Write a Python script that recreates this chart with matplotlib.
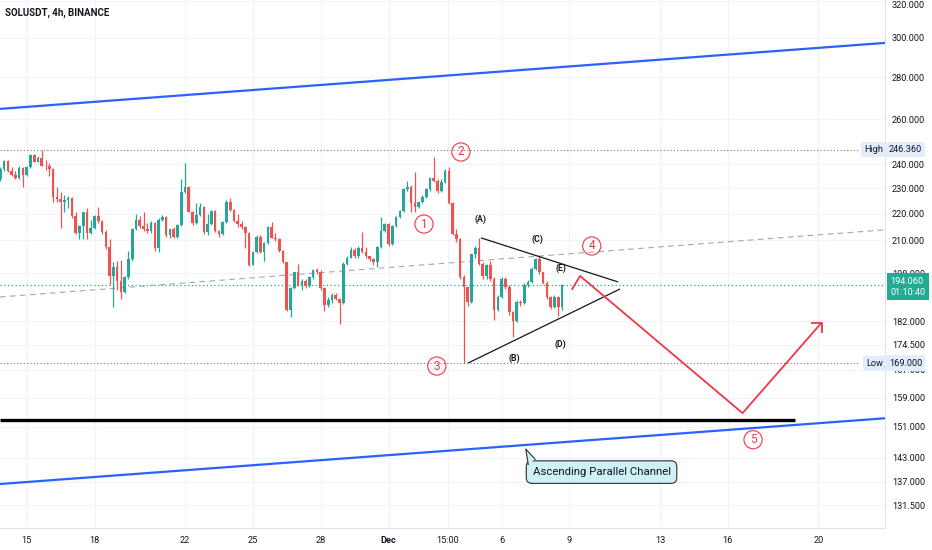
import matplotlib
matplotlib.use('Agg')
import matplotlib.pyplot as plt
import numpy as np
from matplotlib.transforms import blended_transform_factory
from matplotlib.ticker import NullLocator
from matplotlib.patches import Polygon

plt.rcParams['font.family'] = ['Roboto', 'DejaVu Sans']

# ---------------- data (4h candles, SOLUSDT) ----------------
first_open = 233.7
closes = [
    237.9, 241.6, 237.0, 235.4, 234.1, 238.3, 235.4, 238.7, 244.1, 241.2,
    242.9, 239.5, 239.1, 237.9, 226.6, 225.8, 224.6, 225.4, 226.2, 218.9,
    212.5, 215.1, 220.5, 212.5, 214.4, 218.9, 217.0, 212.9, 207.5, 196.9,
    200.4, 195.2, 191.7, 196.6, 202.9, 214.0, 217.4, 215.1, 214.0, 213.2,
    216.3, 207.2, 217.4, 218.6, 211.7, 214.0, 211.3, 215.5, 228.7, 230.8,
    220.8, 216.3, 219.3, 222.7, 212.9, 215.9, 221.2, 213.2, 212.1, 216.7,
    224.6, 221.6, 217.0, 215.9, 214.8, 212.5, 201.1, 205.7, 211.3, 205.7,
    208.9, 214.8, 210.9, 210.2, 206.1, 201.9, 185.7, 193.0, 198.3, 194.0,
    195.4, 193.7, 196.6, 199.0, 198.6, 193.0, 187.3, 188.9, 190.7, 189.3,
    187.9, 201.2, 203.6, 206.4, 204.0, 207.2, 205.7, 204.0, 202.9, 201.9,
    207.5, 213.2, 215.9, 208.5, 215.1, 218.6, 221.2, 229.6, 230.4, 224.3,
    222.7, 224.6, 226.6, 229.6, 234.1, 232.9, 229.1, 232.5, 237.0, 224.3,
    212.1, 210.2, 196.6, 193.3, 188.3, 204.7, 207.2, 201.2, 196.9, 200.8,
    195.9, 185.7, 189.9, 195.9, 193.3, 184.8, 181.9, 188.3, 187.9, 194.0,
    195.0, 199.4, 202.9, 198.3, 194.7, 189.9, 186.7, 189.9, 186.7, 194.06,
]
highs = [
    238.7, 242.0, 242.0, 238.7, 237.0, 239.1, 238.7, 239.5, 244.5, 244.5,
    243.7, 246.36, 242.0, 240.4, 238.3, 230.4, 228.7, 227.5, 227.1, 226.6,
    220.5, 215.5, 220.8, 222.4, 217.4, 219.3, 222.7, 217.4, 213.6, 210.2,
    201.9, 202.2, 202.6, 196.9, 206.1, 214.4, 219.7, 218.9, 220.8, 216.3,
    217.0, 216.7, 218.2, 219.3, 218.9, 214.4, 214.8, 215.9, 233.7, 240.4,
    231.2, 221.2, 224.3, 224.3, 223.1, 219.7, 221.6, 221.6, 213.6, 217.0,
    225.4, 226.2, 222.0, 219.7, 217.0, 215.1, 212.9, 206.1, 211.7, 211.7,
    209.2, 215.1, 216.7, 212.5, 210.6, 206.4, 201.9, 193.3, 198.6, 201.2,
    196.2, 195.9, 196.9, 199.4, 199.9, 199.0, 193.3, 189.9, 191.4, 191.4,
    189.6, 201.9, 204.0, 207.5, 207.2, 207.9, 212.9, 207.5, 204.3, 203.3,
    207.9, 218.6, 216.3, 216.3, 215.5, 218.9, 221.6, 230.0, 232.9, 231.6,
    236.6, 225.0, 227.5, 230.0, 234.5, 243.2, 233.7, 233.7, 237.9, 238.7,
    224.6, 214.0, 210.6, 197.3, 193.7, 205.0, 207.9, 210.9, 201.9, 201.2,
    202.2, 196.6, 190.7, 196.6, 196.6, 194.0, 185.4, 188.9, 188.9, 194.7,
    195.7, 200.1, 203.6, 204.0, 198.6, 195.2, 190.3, 190.7, 190.3, 194.3,
]
lows = [
    232.9, 237.0, 236.6, 235.0, 233.7, 233.7, 230.4, 235.0, 238.3, 240.8,
    240.8, 239.1, 237.5, 235.0, 224.6, 224.6, 214.4, 220.8, 222.4, 218.2,
    212.1, 210.2, 210.2, 210.2, 212.1, 214.0, 216.3, 212.1, 206.8, 194.0,
    186.7, 192.4, 189.3, 191.4, 196.2, 202.2, 213.6, 214.4, 213.2, 212.5,
    212.5, 206.1, 205.7, 217.0, 211.3, 210.9, 210.9, 210.9, 215.1, 228.3,
    220.5, 215.5, 215.9, 218.9, 212.1, 211.7, 215.5, 212.9, 211.3, 211.7,
    216.3, 221.2, 216.7, 214.8, 214.0, 207.2, 200.5, 200.8, 205.4, 205.4,
    202.2, 208.5, 210.6, 209.8, 205.7, 201.5, 185.1, 183.2, 192.6, 193.7,
    192.4, 193.0, 193.3, 196.2, 197.6, 192.4, 185.1, 186.7, 188.0, 188.9,
    180.9, 187.6, 200.8, 203.3, 203.6, 203.6, 205.4, 203.6, 202.2, 200.8,
    200.1, 207.2, 212.9, 207.9, 208.2, 214.8, 218.2, 220.8, 229.1, 220.5,
    220.5, 222.4, 224.3, 226.2, 229.1, 232.5, 228.3, 228.7, 232.1, 223.9,
    211.7, 209.4, 195.9, 169.0, 187.0, 188.0, 203.6, 200.8, 196.2, 195.9,
    195.2, 182.3, 185.4, 189.6, 192.6, 184.1, 176.8, 181.6, 187.0, 187.6,
    193.3, 194.7, 199.0, 197.9, 194.4, 189.3, 186.0, 186.4, 183.5, 185.7,
]

y_ticks = [320, 300, 280, 260, 240, 230, 220, 210, 198, 182, 174.5, 167,
           159, 151, 143, 137, 131.5]
x_tick_pos = [7, 25, 49, 67, 85, 103, 118.75, 133, 151, 175, 193, 217]
x_tick_labels = ['15', '18', '22', '25', '28', 'Dec', '15:00', '6', '9',
                 '13', '16', '20']

range_high = 246.36
range_low = 169.0
last_price = 194.06
countdown = '01:10:40'

# drawings (x in bar index, y in price)
channel_upper = [(-0.08, 264.7), (234.7, 297.4)]
channel_lower = [(-0.08, 136.5), (234.7, 153.3)]
trend_dashed = [(-0.08, 189.9), (234.7, 213.8)]
support_level = 152.8
support_end = 210.8
tri_upper = [(127.5, 210.8), (163.9, 195.0)]
tri_lower = [(124.1, 169.0), (164.4, 192.6)]
forecast = [(151.6, 192.3), (153.8, 197.1), (196.9, 154.7), (217.9, 181.5)]
arrow_left = (215.2, 181.5)
arrow_down = (217.9, 178.1)
waves = [('1', 112.4, 216.0), ('2', 122.2, 245.3), ('3', 115.8, 168.1),
         ('4', 156.9, 207.8), ('5', 199.7, 147.6)]
letters = [('(A)', 127.5, 218.0), ('(B)', 136.3, 170.3), ('(C)', 142.6, 210.4),
           ('(D)', 148.5, 174.8), ('(E)', 148.7, 199.6)]
callout_text = 'Ascending Parallel Channel'
callout_pos = (159.5, 139.4)
callout_tail = [(139.4, 145.2), (140.05, 141.3), (141.9, 142.6)]

GREEN = '#26a69a'
RED = '#ef5350'
TXT = '#131722'
WAVE_RED = '#f23645'

# ---------------- figure ----------------
fig = plt.figure(figsize=(9.32, 5.5), dpi=100)
ax = fig.add_axes([0, 22 / 550, 885 / 932, 528 / 550])
ax.set_yscale('log')
ax.set_xlim(-0.08, 234.7)
ax.set_ylim(126.3, 320.8)

# axis / grid styling
ax.yaxis.tick_right()
ax.set_yticks(y_ticks)
ax.yaxis.set_minor_locator(NullLocator())
ax.set_yticklabels([f'{v:.3f}' for v in y_ticks])
ax.set_xticks(x_tick_pos)
ax.set_xticklabels(x_tick_labels)
ax.xaxis.set_minor_locator(NullLocator())
ax.tick_params(axis='both', length=0, labelsize=6.6, colors=TXT)
ax.tick_params(axis='y', pad=5)
ax.tick_params(axis='x', pad=6)
for lbl in ax.get_xticklabels():
    if lbl.get_text() == 'Dec':
        lbl.set_fontweight('bold')
for lbl in ax.get_yticklabels():
    if lbl.get_text() == '320.000':
        lbl.set_va('top')
ax.grid(True, color='#f0f3fa', lw=0.8, zorder=0)
for s in ['top', 'left']:
    ax.spines[s].set_visible(False)
for s in ['right', 'bottom']:
    ax.spines[s].set_color('#e0e3eb')
    ax.spines[s].set_linewidth(0.8)

# candles
x = np.arange(len(closes))
opens = np.array([first_open] + closes[:-1])
c = np.array(closes)
h = np.array(highs)
l = np.array(lows)
up = c >= opens
colors = np.where(up, GREEN, RED)
ax.vlines(x, l, h, colors=colors, lw=0.9, zorder=3)
bottoms = np.minimum(opens, c)
heights = np.maximum(np.abs(c - opens), 0.25)
ax.bar(x, heights, bottom=bottoms, width=0.7, color=colors, lw=0, zorder=4)

# horizontal levels
ax.axhline(last_price, color=GREEN, ls=(0, (1, 2)), lw=0.9, zorder=2)
ax.axhline(range_high, xmax=0.972, color='#787b86', ls=(0, (1, 2)), lw=0.8, zorder=2)
ax.axhline(range_low, xmax=0.972, color='#787b86', ls=(0, (1, 2)), lw=0.8, zorder=2)

def seg(pts, **kw):
    xs, ys = zip(*pts)
    ax.plot(xs, ys, solid_capstyle='butt', **kw)

seg(trend_dashed, color='#a3a6af', lw=0.8, ls=(0, (5, 4)), zorder=2)
seg(channel_upper, color='#2962ff', lw=1.6, zorder=5)
seg(channel_lower, color='#2962ff', lw=1.6, zorder=5)
ax.plot([-0.08, support_end], [support_level, support_level], color='black',
        lw=2.4, zorder=5, solid_capstyle='butt')
seg(tri_upper, color='#131722', lw=0.9, zorder=5)
seg(tri_lower, color='#131722', lw=0.9, zorder=5)
seg(forecast, color=WAVE_RED, lw=1.3, zorder=6)
seg([arrow_left, forecast[-1], arrow_down], color=WAVE_RED, lw=1.3, zorder=6)

for t, xi, yi in waves:
    ax.text(xi, yi, t, color=WAVE_RED, fontsize=8.5, ha='center', va='center',
            zorder=7,
            bbox=dict(boxstyle='circle,pad=0.22', fc='none', ec=WAVE_RED, lw=0.8))
for t, xi, yi in letters:
    ax.text(xi, yi, t, color=TXT, fontsize=6.3, fontweight='bold',
            ha='center', va='center', zorder=7)

# callout
ax.text(callout_pos[0], callout_pos[1], callout_text, color=TXT, fontsize=8.2,
        ha='center', va='center', zorder=8,
        bbox=dict(boxstyle='round,pad=0.55,rounding_size=0.5', fc='#cdf1f4',
                  ec='#2a2e39', lw=0.8))
ax.add_patch(Polygon(callout_tail, closed=True, fc='#cdf1f4', ec='none', zorder=9))
ax.plot([callout_tail[1][0], callout_tail[0][0], callout_tail[2][0]],
        [callout_tail[1][1], callout_tail[0][1], callout_tail[2][1]],
        color='#2a2e39', lw=0.8, zorder=9)

# price-axis labels
bt = blended_transform_factory(ax.transAxes, ax.transData)
LB = '#e3ecfb'
for name, val in [('High', range_high), ('Low', range_low)]:
    ax.text(0.9975, val, name, transform=bt, ha='right', va='center', fontsize=6.6,
            color=TXT, zorder=10,
            bbox=dict(boxstyle='square,pad=0.3', fc=LB, ec='none'))
    ax.text(1.0 + 4 / 885, val, f'{val:.3f}', transform=bt, ha='left', va='center',
            fontsize=6.6, color=TXT, zorder=10, clip_on=False,
            bbox=dict(boxstyle='square,pad=0.35', fc=LB, ec='none'))
ax.annotate(f'{last_price:.3f}\n{countdown}', xy=(1.0, last_price), xycoords=bt,
            xytext=(4, 5.5), textcoords='offset points', ha='left', va='top',
            fontsize=6.6, color='white', linespacing=1.25, zorder=11,
            annotation_clip=False,
            bbox=dict(boxstyle='square,pad=0.4', fc='#22ab94', ec='none'))

fig.text(5 / 932, 1 - 13 / 550, 'SOLUSDT, 4h, BINANCE', fontsize=7,
         fontweight='bold', color=TXT, ha='left', va='center')

fig.savefig('out.png', dpi=100, facecolor='white')
